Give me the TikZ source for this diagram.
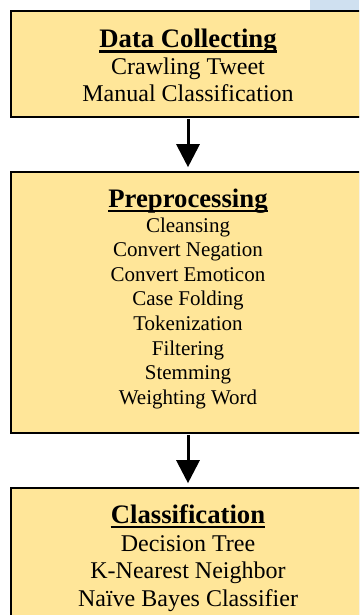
\documentclass[tikz,border=0pt]{standalone}
\usepackage{fontspec}
\setmainfont{Liberation Serif}
\newfontfamily\timesfont{Liberation Serif}
\usepackage{tikz}
\usetikzlibrary{arrows.meta}
\usetikzlibrary{shadows}
\definecolor{boxfill}{RGB}{255,230,153}
\definecolor{patchblue}{RGB}{207,224,240}
\tikzset{
  stagebox/.style={draw=black, line width=1.6pt, fill=boxfill, minimum width=354pt,
    drop shadow={shadow xshift=-0.8pt, shadow yshift=-1.4pt, fill=gray!70, opacity=1}},
  title/.style={anchor=base, inner sep=0pt, font=\timesfont\bfseries\fontsize{26.7}{30}\selectfont},
  item/.style={anchor=base, inner sep=0pt, font=\timesfont\fontsize{24}{27}\selectfont},
  smallitem/.style={anchor=base, inner sep=0pt, font=\timesfont\fontsize{21}{25}\selectfont},
  flow/.style={line width=3pt, -{Triangle[width=23pt, length=23pt]}, shorten >=4pt, shorten <=1pt},
}
\begin{document}
\begin{tikzpicture}[x=1pt, y=-1pt]
    \clip (0,0) rectangle (359,615);
    \fill [white] (0,0) rectangle (359,615);
    \fill [patchblue] (310,0) rectangle (359,11);
    % boxes
    \node [stagebox, minimum height=106pt] (dcbox) at (188,64) {};
    \node [stagebox, minimum height=261pt] (ppbox) at (188,302.5) {};
    \node [stagebox, minimum height=152pt] (clbox) at (188,564) {};
    % arrows
    \draw [flow] (dcbox.south) -- (ppbox.north);
    \draw [flow] (ppbox.south) -- (clbox.north);
    % data collecting
    \node [title] (dctitle) at (188,48) {Data Collecting};
    \draw [line width=2.4pt] ([yshift=-3.7pt]dctitle.base west) -- ([yshift=-3.7pt]dctitle.base east);
    \node [item] (dc1) at (188,75) {Crawling Tweet};
    \node [item] (dc2) at (188,102) {Manual Classification};
    % preprocessing
    \node [title] (pptitle) at (188,207) {Preprocessing};
    \draw [line width=2.4pt] ([yshift=-3.7pt]pptitle.base west) -- ([yshift=-3.7pt]pptitle.base east);
    \foreach \t [count=\i] in {Cleansing, Convert Negation, Convert Emoticon, Case Folding,
        Tokenization, Filtering, Stemming, Weighting Word}
        \node [smallitem] (pp\i) at (188,{232+24.6*(\i-1)}) {\t};
    % classification
    \node [title] (cltitle) at (188,523) {Classification};
    \draw [line width=2.4pt] ([yshift=-3.7pt]cltitle.base west) -- ([yshift=-3.7pt]cltitle.base east);
    \node [item] (cl1) at (188,551) {Decision Tree};
    \node [item] (cl2) at (188,578.5) {K-Nearest Neighbor};
    \node [item] (cl3) at (188,606) {Naïve Bayes Classifier};
\end{tikzpicture}
\end{document}
